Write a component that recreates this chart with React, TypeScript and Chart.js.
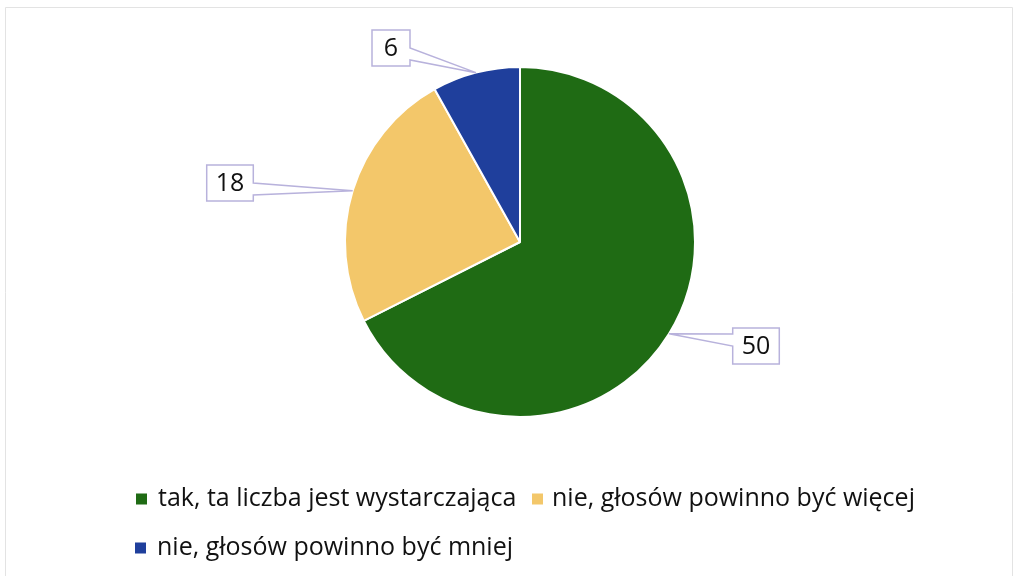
import React, { useEffect, useRef } from "react";
import { Chart, registerables } from "chart.js";

Chart.register(...registerables);

const categories = [
  "tak, ta liczba jest wystarczająca",
  "nie, głosów powinno być więcej",
  "nie, głosów powinno być mniej",
];
const values = [50, 18, 6];
const colors = ["#1f6b14", "#f3c76a", "#1f3f9c"];

// callout box centers relative to pie center (layout only)
const calloutOffsets = [
  { dx: 236, dy: 104 },
  { dx: -290, dy: -59 },
  { dx: -129, dy: -194 },
];

const FONT = "'Open Sans', sans-serif";

const calloutPlugin = {
  id: "callouts",
  afterDatasetsDraw(chart: any) {
    const ctx = chart.ctx;
    const meta = chart.getDatasetMeta(0);
    ctx.save();
    meta.data.forEach((arc: any, i: number) => {
      const { x: cx, y: cy, startAngle, endAngle, outerRadius } = arc.getProps(
        ["x", "y", "startAngle", "endAngle", "outerRadius"],
        true
      );
      const mid = (startAngle + endAngle) / 2;
      const tx = cx + Math.cos(mid) * outerRadius;
      const ty = cy + Math.sin(mid) * outerRadius;
      const text = String(chart.data.datasets[0].data[i]);
      ctx.font = `25px ${FONT}`;
      const tw = ctx.measureText(text).width;
      const w = Math.max(38, tw + 18);
      const h = 36;
      const bx = cx + calloutOffsets[i].dx;
      const by = cy + calloutOffsets[i].dy;
      const x0 = bx - w / 2, x1 = bx + w / 2, y0 = by - h / 2, y1 = by + h / 2;
      const ay = Math.min(Math.max(ty, y0 + 12), y1 - 12);
      ctx.beginPath();
      if (tx > x1) {
        ctx.moveTo(x0, y0);
        ctx.lineTo(x1, y0);
        ctx.lineTo(x1, ay - 6);
        ctx.lineTo(tx, ty);
        ctx.lineTo(x1, ay + 6);
        ctx.lineTo(x1, y1);
        ctx.lineTo(x0, y1);
        ctx.closePath();
      } else {
        ctx.moveTo(x1, y0);
        ctx.lineTo(x0, y0);
        ctx.lineTo(x0, ay - 6);
        ctx.lineTo(tx, ty);
        ctx.lineTo(x0, ay + 6);
        ctx.lineTo(x0, y1);
        ctx.lineTo(x1, y1);
        ctx.closePath();
      }
      ctx.fillStyle = "#ffffff";
      ctx.fill();
      ctx.strokeStyle = "#b8b2dc";
      ctx.lineWidth = 1.5;
      ctx.stroke();
      ctx.fillStyle = "#111111";
      ctx.textAlign = "center";
      ctx.textBaseline = "middle";
      ctx.fillText(text, bx, by + 1);
    });
    ctx.restore();
  },
};

const legendPlugin = {
  id: "customLegend",
  afterDraw(chart: any) {
    const ctx = chart.ctx;
    ctx.save();
    // faint frame
    ctx.strokeStyle = "#e3e3e3";
    ctx.lineWidth = 1;
    ctx.beginPath();
    ctx.moveTo(5.5, 580);
    ctx.lineTo(5.5, 7.5);
    ctx.lineTo(1012.5, 7.5);
    ctx.lineTo(1012.5, 580);
    ctx.stroke();

    ctx.font = `25px ${FONT}`;
    ctx.textBaseline = "middle";
    ctx.textAlign = "left";
    const positions = [
      { x: 136, tx: 158, y: 499 },
      { x: 532, tx: 552, y: 499 },
      { x: 135, tx: 157, y: 548 },
    ];
    chart.data.labels.forEach((label: string, i: number) => {
      const p = positions[i];
      ctx.fillStyle = chart.data.datasets[0].backgroundColor[i];
      ctx.fillRect(p.x, p.y - 5.5, 11, 11);
      ctx.fillStyle = "#111111";
      ctx.fillText(label, p.tx, p.y);
    });
    ctx.restore();
  },
};

export default function App() {
  const ref = useRef<HTMLCanvasElement | null>(null);
  useEffect(() => {
    document.body.style.margin = "0";
    const chart = new Chart(ref.current as HTMLCanvasElement, {
      type: "pie",
      data: {
        labels: categories,
        datasets: [
          {
            data: values,
            backgroundColor: colors,
            borderColor: "#ffffff",
            borderWidth: 2,
          },
        ],
      },
      options: {
        animation: false,
        responsive: true,
        maintainAspectRatio: false,
        layout: { padding: { top: 66, bottom: 158, left: 199, right: 177 } },
        plugins: {
          legend: { display: false },
          tooltip: { enabled: false },
        },
      },
      plugins: [calloutPlugin, legendPlugin],
    });
    return () => chart.destroy();
  }, []);
  return (
    <div style={{ position: "absolute", left: 0, top: 0, width: 1018, height: 576, background: "#fff" }}>
      <canvas ref={ref} />
    </div>
  );
}
